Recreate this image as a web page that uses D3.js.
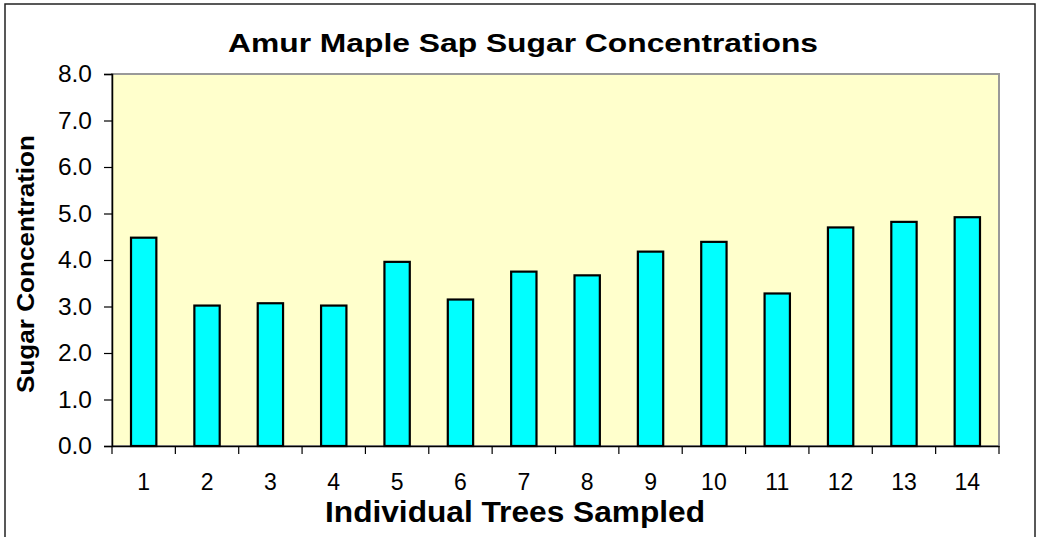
<!DOCTYPE html>
<html><head><meta charset="utf-8">
<script src="https://cdn.jsdelivr.net/npm/d3@7"></script>
<style>body{margin:0;background:#fff}svg{display:block}</style>
</head><body>
<svg id="c" width="1037" height="537"></svg>
<script>
const categories = ["1","2","3","4","5","6","7","8","9","10","11","12","13","14"];
const values = [4.48,3.02,3.07,3.02,3.96,3.15,3.75,3.67,4.18,4.39,3.28,4.70,4.82,4.92];
const yTicks = [0,1,2,3,4,5,6,7,8];

const svg = d3.select("#c");
const font = "Liberation Sans, Arial, sans-serif";
svg.append("rect").attr("x",5).attr("y",4).attr("width",1030).attr("height",545)
  .attr("fill","#fff").attr("stroke","#222").attr("stroke-width",1.5);

const L=112,R=999,T=74,B=446;
const x = d3.scaleBand().domain(categories).range([L,R]).paddingInner(0.6).paddingOuter(0.3);
const xb = d3.scaleBand().domain(categories).range([L,R]);
const y = d3.scaleLinear().domain([0,8]).range([B,T]);

svg.append("rect").attr("x",L).attr("y",T).attr("width",R-L).attr("height",B-T)
  .attr("fill","#ffffcc").attr("stroke","#999").attr("stroke-width",2);

svg.selectAll(".bar").data(values).enter().append("rect")
  .attr("x",(d,i)=>x(categories[i])).attr("width",x.bandwidth())
  .attr("y",d=>y(d)).attr("height",d=>B-y(d))
  .attr("fill","#00ffff").attr("stroke","#000").attr("stroke-width",2.2);

// y axis
const ya = svg.append("g").attr("transform",`translate(${L},0)`)
  .call(d3.axisLeft(y).tickValues(yTicks).tickFormat(d3.format(".1f")).tickSize(8).tickPadding(12));
ya.select(".domain").attr("stroke","#000").attr("stroke-width",1.5);
ya.selectAll(".tick line").attr("stroke","#000").attr("stroke-width",1.2);
ya.selectAll("text").attr("font-family",font).attr("font-size",24.5).attr("fill","#000");

// x axis
const xa = svg.append("g").attr("transform",`translate(0,${B})`)
  .call(d3.axisBottom(xb).tickSize(0).tickPadding(28));
xa.select(".domain").attr("stroke","#000").attr("stroke-width",1.5);
xa.selectAll("text").attr("font-family",font).attr("font-size",23).attr("fill","#000");
const bounds = categories.map(c=>xb(c)).concat([R]);
xa.selectAll(".bnd").data(bounds).enter().append("line")
  .attr("x1",d=>d).attr("x2",d=>d).attr("y1",0).attr("y2",8)
  .attr("stroke","#000").attr("stroke-width",1.2);

svg.append("text").attr("x",228).attr("y",52)
  .attr("textLength",590).attr("lengthAdjust","spacingAndGlyphs")
  .attr("font-family",font).attr("font-weight","bold").attr("font-size",26).text("Amur Maple Sap Sugar Concentrations");
svg.append("text").attr("x",325).attr("y",522)
  .attr("textLength",380).attr("lengthAdjust","spacingAndGlyphs")
  .attr("font-family",font).attr("font-weight","bold").attr("font-size",29).text("Individual Trees Sampled");
svg.append("text").attr("transform","translate(34,393) rotate(-90)")
  .attr("textLength",258).attr("lengthAdjust","spacingAndGlyphs")
  .attr("font-family",font).attr("font-weight","bold").attr("font-size",23.5).text("Sugar Concentration");
</script>
</body></html>
